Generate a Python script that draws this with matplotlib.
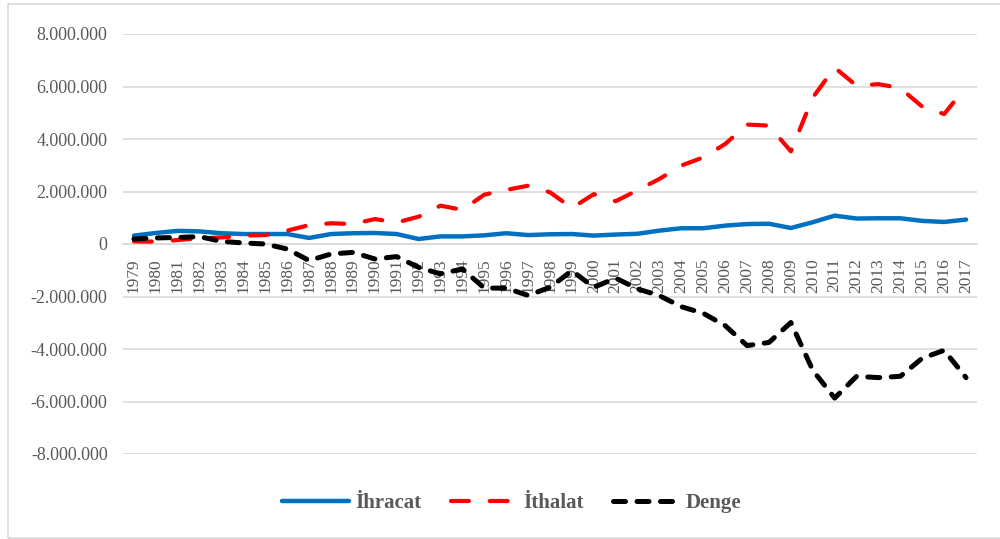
import matplotlib
matplotlib.use("Agg")
import matplotlib.pyplot as plt
from matplotlib.patches import Rectangle
from matplotlib.ticker import FuncFormatter
import numpy as np

years = [str(y) for y in range(1979, 2018)]

ihracat = [0.32, 0.42, 0.50, 0.48, 0.41, 0.38, 0.38, 0.38, 0.23, 0.38,
           0.41, 0.42, 0.38, 0.19, 0.29, 0.29, 0.33, 0.41, 0.34, 0.37,
           0.38, 0.32, 0.36, 0.39, 0.51, 0.60, 0.60, 0.70, 0.76, 0.77,
           0.61, 0.83, 1.08, 0.97, 0.98, 0.98, 0.88, 0.84, 0.93]

ithalat = [0.10, 0.09, 0.15, 0.22, 0.25, 0.32, 0.34, 0.51, 0.72, 0.79,
           0.76, 0.95, 0.82, 1.04, 1.46, 1.30, 1.88, 2.06, 2.22, 1.97,
           1.37, 1.90, 1.63, 2.05, 2.48, 2.99, 3.30, 3.81, 4.55, 4.51,
           3.53, 5.58, 6.72, 6.03, 6.09, 5.94, 5.23, 4.95, 5.99]

denge = [0.19, 0.23, 0.25, 0.28, 0.10, 0.04, 0.00, -0.19, -0.63, -0.38,
         -0.32, -0.57, -0.48, -0.89, -1.14, -0.95, -1.68, -1.68, -1.96, -1.65,
         -1.02, -1.65, -1.30, -1.71, -1.97, -2.39, -2.64, -3.11, -3.87, -3.75,
         -2.99, -4.81, -5.87, -5.04, -5.09, -5.04, -4.35, -4.05, -5.09]

scale = 1_000_000
series_names = ["İhracat", "İthalat", "Denge"]

fig = plt.figure(figsize=(10, 5.39), dpi=100)
fig.patches.append(Rectangle((8/1000, 1 - 538/539), 1.2, (538 - 4)/539,
                             transform=fig.transFigure, fill=False,
                             edgecolor="#d9d9d9", linewidth=1.2))

ax = fig.add_axes([0.123, 1 - 454/539, 0.977 - 0.123, (454 - 34)/539])
x = np.arange(len(years))

l1, = ax.plot(x, np.array(ihracat) * scale, color="#0070C0", linewidth=3.2,
              solid_capstyle="round", solid_joinstyle="round", label=series_names[0], zorder=3)
l2, = ax.plot(x, np.array(ithalat) * scale, color="#FF0000", linewidth=3.0,
              dashes=(4.3, 5.0), dash_capstyle="round", dash_joinstyle="round",
              label=series_names[1], zorder=4)
l3, = ax.plot(x, np.array(denge) * scale, color="#000000", linewidth=3.6,
              dashes=(2.4, 2.3), dash_capstyle="round", dash_joinstyle="round",
              label=series_names[2], zorder=5)

ax.set_xlim(-0.5, len(years) - 0.5)
ax.set_ylim(-8 * scale, 8 * scale)
ax.set_yticks(np.arange(-8, 9, 2) * scale)
ax.yaxis.set_major_formatter(FuncFormatter(lambda v, p: f"{int(round(v)):,}".replace(",", ".")))
ax.grid(axis="y", color="#d9d9d9", linewidth=1.2)
ax.set_axisbelow(True)

for s in ["top", "right", "left"]:
    ax.spines[s].set_visible(False)
ax.spines["bottom"].set_position(("data", 0))
ax.spines["bottom"].set_color("#d9d9d9")
ax.spines["bottom"].set_linewidth(1.2)

ax.set_xticks(x)
ax.set_xticklabels(years, rotation=90, va="top", ha="center")
ax.tick_params(axis="x", length=0, pad=10, labelsize=12.5, labelcolor="#595959")
ax.tick_params(axis="y", length=0, pad=11, labelsize=13, labelcolor="#595959")
for lab in ax.get_xticklabels() + ax.get_yticklabels():
    lab.set_fontfamily("Liberation Serif")

leg = fig.legend(handles=[l1, l2, l3], loc="center", bbox_to_anchor=(0.512, 1 - 503/539),
                 ncol=3, frameon=False, handlelength=3.2, handletextpad=0.3,
                 columnspacing=1.4,
                 prop={"family": "Liberation Serif", "weight": "bold", "size": 15})
for t in leg.get_texts():
    t.set_color("#595959")

fig.savefig("out.png", dpi=100)
